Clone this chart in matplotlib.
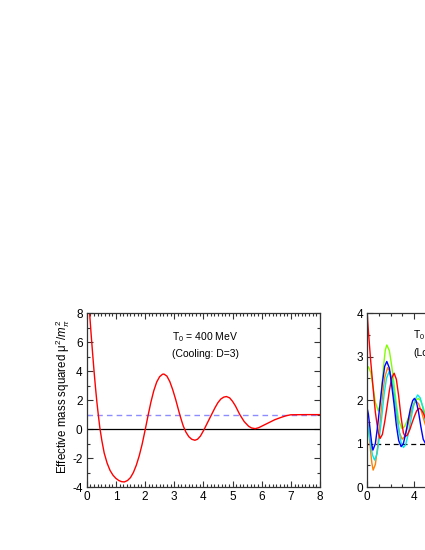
import matplotlib
matplotlib.use("Agg")
import matplotlib.pyplot as plt
from matplotlib.ticker import MultipleLocator

plt.rcParams['font.family'] = ['Liberation Sans', 'DejaVu Sans']
plt.rcParams['mathtext.fontset'] = 'custom'
plt.rcParams['mathtext.rm'] = 'Liberation Sans'
plt.rcParams['mathtext.it'] = 'Liberation Sans:italic'
plt.rcParams['axes.unicode_minus'] = False

# left panel: cooling, D=3
t_cool = [0.10, 0.15, 0.20, 0.25, 0.30, 0.35, 0.40, 0.45, 0.52, 0.60, 0.70, 0.80,
          0.90, 1.00, 1.10, 1.20, 1.29, 1.40, 1.50, 1.60, 1.70, 1.80, 1.90, 2.00,
          2.10, 2.20, 2.30, 2.40, 2.50, 2.60, 2.65, 2.75, 2.85, 2.95, 3.05, 3.17,
          3.25, 3.31, 3.40, 3.50, 3.60, 3.71, 3.80, 3.90, 4.02, 4.15, 4.28, 4.40,
          4.50, 4.60, 4.70, 4.79, 4.90, 5.00, 5.10, 5.25, 5.40, 5.55, 5.65, 5.78,
          5.90, 6.05, 6.22, 6.45, 6.68, 6.85, 7.00, 7.50, 8.00]
m2_cool = [8.0, 6.6, 5.3, 4.05, 2.9, 1.85, 0.95, 0.1, -0.8, -1.65, -2.35, -2.85,
           -3.18, -3.4, -3.55, -3.63, -3.65, -3.55, -3.35, -3.0, -2.5, -1.85, -1.05, -0.1,
           0.9, 1.85, 2.65, 3.25, 3.62, 3.79, 3.8, 3.66, 3.28, 2.72, 2.05, 1.15,
           0.6, 0.22, -0.2, -0.52, -0.7, -0.77, -0.7, -0.48, -0.05, 0.48, 1.0, 1.48,
           1.83, 2.08, 2.21, 2.25, 2.16, 1.92, 1.6, 1.0, 0.52, 0.2, 0.08, 0.03,
           0.1, 0.25, 0.42, 0.65, 0.82, 0.93, 0.99, 1.0, 1.0]

# right panel: five runs
t_red = [0.0, 0.1, 0.2, 0.3, 0.4, 0.5, 0.6, 0.7, 0.83, 0.95, 1.11, 1.3, 1.5, 1.7,
         1.9, 2.1, 2.31, 2.5, 2.7, 2.9, 3.1, 3.25, 3.45, 3.65, 3.85, 4.05, 4.25,
         4.45, 4.65, 4.85, 5.05, 5.25, 5.5]
m2_red = [4.0, 3.6, 3.25, 2.9, 2.6, 2.3, 2.0, 1.72, 1.47, 1.25, 1.12, 1.21, 1.5, 1.85,
          2.22, 2.51, 2.62, 2.48, 2.09, 1.61, 1.25, 1.16, 1.2, 1.32, 1.48, 1.63, 1.76,
          1.81, 1.78, 1.68, 1.53, 1.4, 1.3]

t_green = [0.0, 0.1, 0.3, 0.5, 0.7, 0.95, 1.1, 1.25, 1.4, 1.55, 1.68, 1.9, 2.1, 2.3,
           2.5, 2.7, 2.97, 3.2, 3.45, 3.7, 3.95, 4.2, 4.39, 4.6, 4.8, 5.0, 5.3]
m2_green = [2.73, 2.77, 2.64, 2.31, 1.95, 1.75, 1.9, 2.3, 2.78, 3.15, 3.27, 3.14, 2.79, 2.37,
            1.91, 1.54, 1.35, 1.39, 1.54, 1.71, 1.89, 2.01, 2.04, 1.98, 1.83, 1.65, 1.45]

t_orange = [0.0, 0.1, 0.2, 0.3, 0.4, 0.51, 0.7, 0.9, 1.1, 1.3, 1.5, 1.75, 1.95, 2.15,
            2.35, 2.55, 2.75, 3.0, 3.2, 3.4, 3.6, 3.8, 4.0, 4.2, 4.4, 4.6, 4.8, 5.0]
m2_orange = [1.6, 1.4, 1.1, 0.8, 0.55, 0.39, 0.52, 0.94, 1.48, 2.06, 2.52, 2.75, 2.65, 2.35,
             1.97, 1.58, 1.26, 1.1, 1.16, 1.32, 1.54, 1.75, 1.91, 1.97, 1.92, 1.78, 1.6, 1.42]

t_blue = [0.0, 0.1, 0.2, 0.3, 0.4, 0.49, 0.7, 0.9, 1.1, 1.3, 1.5, 1.68, 1.9, 2.1, 2.3,
          2.5, 2.7, 2.91, 3.1, 3.3, 3.5, 3.7, 3.9, 4.05, 4.2, 4.4, 4.6, 4.8, 5.0, 5.3]
m2_blue = [1.81, 1.68, 1.45, 1.2, 0.97, 0.85, 1.0, 1.42, 1.91, 2.4, 2.78, 2.89, 2.74, 2.34, 1.91,
           1.42, 1.07, 0.93, 1.0, 1.23, 1.52, 1.8, 1.99, 2.04, 1.98, 1.73, 1.39, 1.1, 1.0, 1.1]

t_cyan = [0.0, 0.15, 0.3, 0.45, 0.63, 0.85, 1.05, 1.25, 1.45, 1.65, 1.88, 2.1, 2.3, 2.5,
          2.7, 2.9, 3.11, 3.3, 3.5, 3.7, 3.9, 4.1, 4.33, 4.55, 4.75, 4.95, 5.2]
m2_cyan = [1.5, 1.25, 0.98, 0.74, 0.62, 0.77, 1.15, 1.62, 2.13, 2.5, 2.66, 2.53, 2.17, 1.79,
           1.35, 1.03, 0.91, 0.98, 1.2, 1.48, 1.78, 2.01, 2.12, 2.05, 1.85, 1.58, 1.3]

fig = plt.figure(figsize=(4.25, 5.5), dpi=100)
ax1 = fig.add_axes([0.204, 0.1145, 0.549, 0.3159])
ax2 = fig.add_axes([0.864, 0.1145, 0.549, 0.3159])

# left panel
ax1.axhline(0, color='black', lw=0.9)
ax1.axhline(1, color='#8c8cff', lw=1.0, ls=(0, (4, 3)))
ax1.plot(t_cool, m2_cool, color='red', lw=1.0)
ax1.set_xlim(0, 8)
ax1.set_ylim(-4, 8)
ax1.xaxis.set_major_locator(MultipleLocator(1))
ax1.xaxis.set_minor_locator(MultipleLocator(0.125))
ax1.yaxis.set_major_locator(MultipleLocator(2))
ax1.yaxis.set_minor_locator(MultipleLocator(1))
ax1.set_ylabel(r"Effective mass squared $\mathrm{\mu}^2/m_\pi^{\,2}$", fontsize=8.3)
ax1.yaxis.set_label_coords(-0.062, 0.52)
ax1.text(4.07, 6.38, r"T$_0$ = 400 MeV", ha='center', va='center', fontsize=7.5)
ax1.text(4.07, 5.16, "(Cooling: D=3)", ha='center', va='center', fontsize=7.5)

# right panel
ax2.axhline(1, color='black', lw=0.9, ls=(0, (4, 3)))
ax2.plot(t_green, m2_green, color='#80ff00', lw=1.0)
ax2.plot(t_orange, m2_orange, color='#ff8000', lw=1.0)
ax2.plot(t_cyan, m2_cyan, color='#00e8e8', lw=1.0)
ax2.plot(t_red, m2_red, color='red', lw=1.0)
ax2.plot(t_blue, m2_blue, color='#0000ff', lw=1.0)
ax2.set_xlim(0, 20)
ax2.set_ylim(0, 4)
ax2.xaxis.set_major_locator(MultipleLocator(4))
ax2.xaxis.set_minor_locator(MultipleLocator(1))
ax2.yaxis.set_major_locator(MultipleLocator(1))
ax2.yaxis.set_minor_locator(MultipleLocator(0.5))
ax2.text(3.93, 3.5, r"T$_0$ = 400 MeV", ha='left', va='center', fontsize=7.5)
ax2.text(3.93, 3.08, "(Longitudinal)", ha='left', va='center', fontsize=7.5)

for ax in (ax1, ax2):
    ax.tick_params(which='both', direction='in', top=True, right=True,
                   labelsize=8.5, pad=3, width=0.8, colors='#333333', labelcolor='black')
    ax.tick_params(which='major', length=4)
    ax.tick_params(which='minor', length=2.5)
    for s in ax.spines.values():
        s.set_linewidth(0.9)
        s.set_color('#333333')

fig.savefig("out.png", dpi=100)
